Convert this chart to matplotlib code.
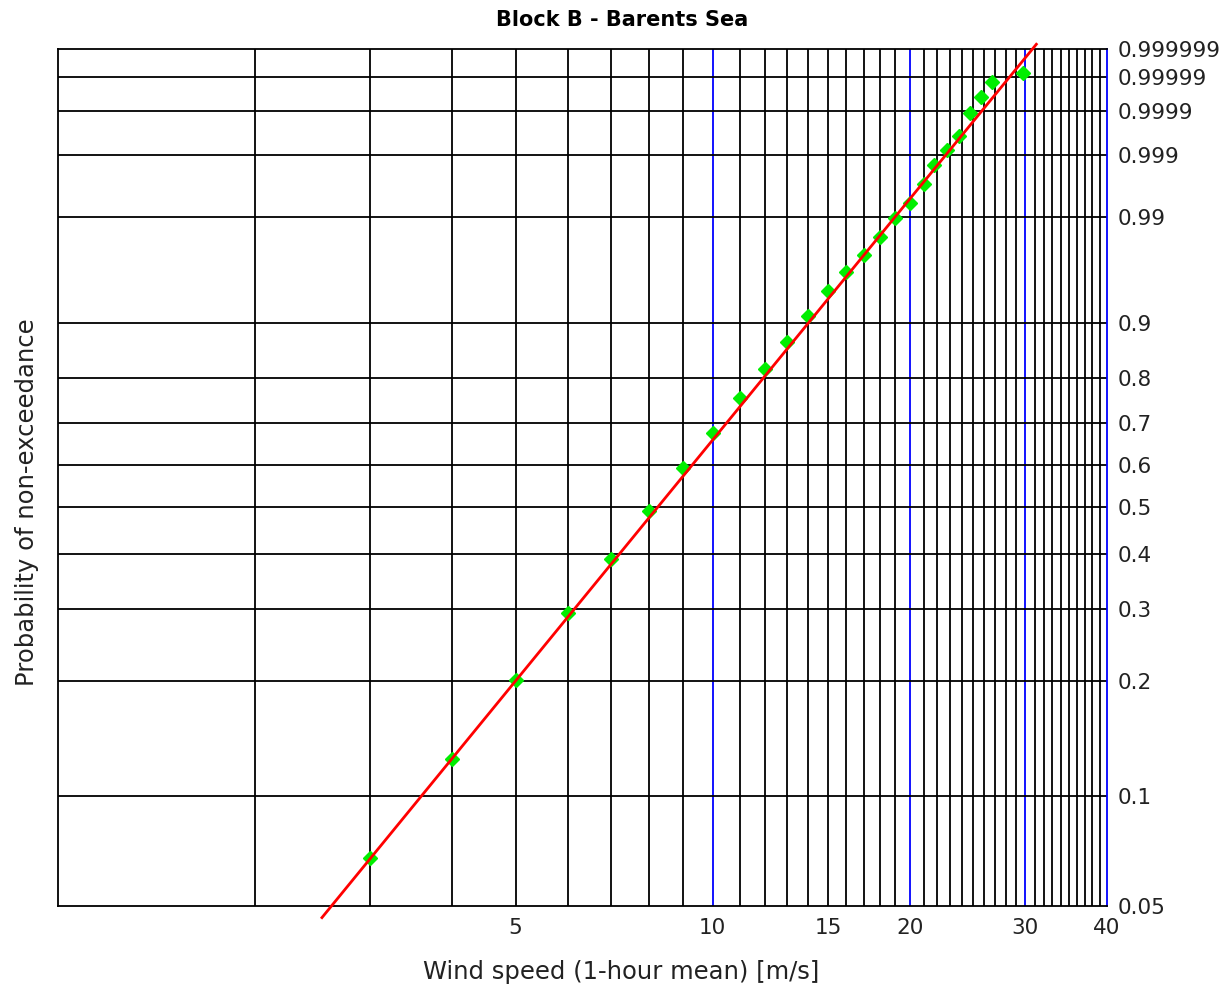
import numpy as np
import matplotlib.pyplot as plt

wind_speed = [3, 4, 5, 6, 7, 8, 9, 10, 11, 12, 13, 14, 15, 16, 17, 18, 19, 20,
              21, 21.8, 22.8, 23.8, 24.7, 25.7, 26.7, 29.8]
prob = [0.0678, 0.1254, 0.2011, 0.294, 0.390, 0.492, 0.592, 0.676, 0.757,
        0.8195, 0.870, 0.911, 0.942, 0.9603, 0.9728, 0.9827, 0.98985, 0.99367,
        0.99676, 0.99848, 0.99922, 0.99961, 0.99989, 0.999959, 0.9999858,
        0.9999927]

# weibull fit (shape, scale) and the range it is drawn over
fit_shape = 2.27
fit_scale = 9.68
fit_range = (2.53, 31.2)

p_ticks = [0.05, 0.1, 0.2, 0.3, 0.4, 0.5, 0.6, 0.7, 0.8, 0.9,
           0.99, 0.999, 0.9999, 0.99999, 0.999999]
p_labels = ["0.05", "0.1", "0.2", "0.3", "0.4", "0.5", "0.6", "0.7", "0.8",
            "0.9", "0.99", "0.999", "0.9999", "0.99999", "0.999999"]
x_ticks = [5, 10, 15, 20, 30, 40]
x_grid = list(range(2, 40))


def fwd(p):
    p = np.clip(p, 1e-12, 1 - 1e-15)
    return np.log(-np.log(1 - p))


def inv(y):
    return 1 - np.exp(-np.exp(y))


fig = plt.figure(figsize=(12.31, 9.89), dpi=100)
ax = fig.add_axes([58 / 1231, 83 / 989, 1049 / 1231, 857 / 989])
ax.set_xscale("log")
ax.set_yscale("function", functions=(fwd, inv))
ax.set_xlim(1, 40)
ax.set_ylim(0.05, 0.999999)

for v in x_grid:
    ax.axvline(v, color="blue" if v % 10 == 0 else "black", lw=1.3, zorder=1)
for p in p_ticks[1:-1]:
    ax.axhline(p, color="black", lw=1.3, zorder=1)

for s in ["left", "top", "bottom"]:
    ax.spines[s].set_color("black")
    ax.spines[s].set_linewidth(1.3)
ax.spines["right"].set_color("blue")
ax.spines["right"].set_linewidth(1.3)

ax.plot(wind_speed, prob, "D", color="#00ee00", ms=7, mec="#00ee00", zorder=3)

xs = np.geomspace(fit_range[0], fit_range[1], 300)
ps = 1 - np.exp(-(xs / fit_scale) ** fit_shape)
ax.plot(xs, ps, color="red", lw=2, zorder=4, clip_on=False)

ax.set_xticks(x_ticks)
ax.set_xticklabels([str(t) for t in x_ticks])
ax.xaxis.set_minor_locator(plt.NullLocator())
ax.yaxis.tick_right()
ax.set_yticks(p_ticks)
ax.set_yticklabels(p_labels)
ax.yaxis.set_minor_locator(plt.NullLocator())
ax.tick_params(axis="both", length=0, labelsize=15.5, colors="#222222")
ax.tick_params(axis="x", pad=9)
ax.tick_params(axis="y", pad=8)

fig.text(0.505, 0.980, "Block B - Barents Sea", ha="center", va="center",
         fontsize=15, fontweight="bold")
fig.text(0.505, 0.017, "Wind speed (1-hour mean) [m/s]", ha="center",
         va="center", fontsize=17.5, color="#222222")
fig.text(0.022, 0.492, "Probability of non-exceedance", ha="center",
         va="center", rotation=90, fontsize=17.5, color="#222222")

fig.savefig("out.png", dpi=100)
